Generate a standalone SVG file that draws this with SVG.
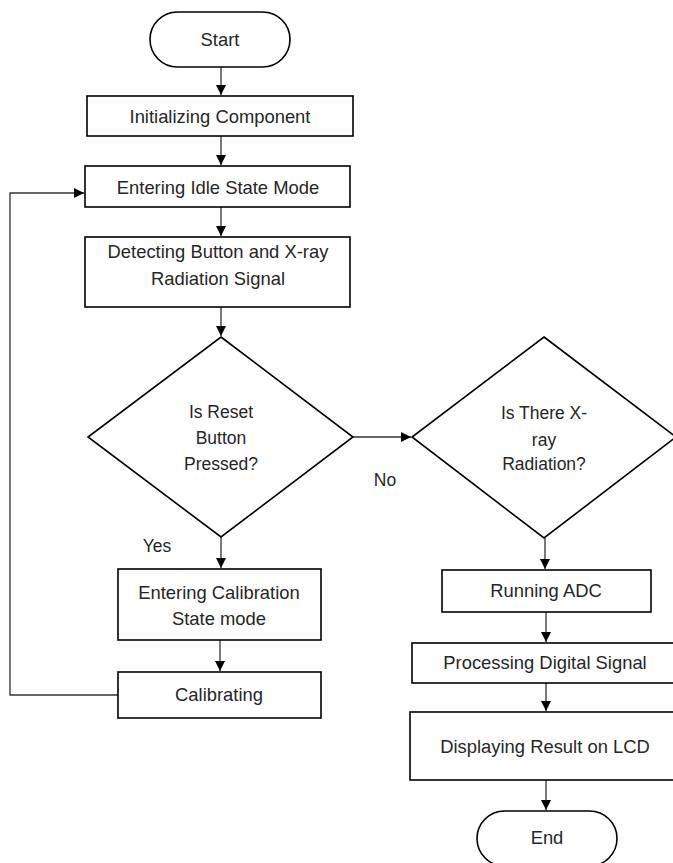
<svg xmlns="http://www.w3.org/2000/svg" width="673" height="863" viewBox="0 0 673 863">
<defs>
<marker id="arr" markerWidth="10" markerHeight="10" refX="10" refY="5" orient="auto" markerUnits="userSpaceOnUse">
<path d="M0,0 L10,5 L0,10 z" fill="#000"/>
</marker>
<style>
.shape{fill:#fff;stroke:#000;stroke-width:1.6}
.conn{fill:none;stroke:#333;stroke-width:1.3}
.t{font-family:"Liberation Sans",Arial,sans-serif;font-size:18.4px;fill:#262626;text-anchor:middle}
.d{font-family:"Liberation Sans",Arial,sans-serif;font-size:17.5px;fill:#262626;text-anchor:middle}
</style>
</defs>
<rect width="673" height="863" fill="#fff"/>
<g id="connectors">
<path class="conn" d="M221,67 V95" marker-end="url(#arr)"/>
<path class="conn" d="M221,136 V165" marker-end="url(#arr)"/>
<path class="conn" d="M221,207 V236" marker-end="url(#arr)"/>
<path class="conn" d="M221,307 V336" marker-end="url(#arr)"/>
<path class="conn" d="M353,437 H411" marker-end="url(#arr)"/>
<path class="conn" d="M221,537 V568" marker-end="url(#arr)"/>
<path class="conn" d="M545,538 V569" marker-end="url(#arr)"/>
<path class="conn" d="M220,640 V671" marker-end="url(#arr)"/>
<path class="conn" d="M118,695 H10 V193 H84" marker-end="url(#arr)"/>
<path class="conn" d="M546,612 V642" marker-end="url(#arr)"/>
<path class="conn" d="M546,683 V711" marker-end="url(#arr)"/>
<path class="conn" d="M546,780 V810" marker-end="url(#arr)"/>
</g>
<g id="start">
<rect class="shape" x="150" y="12" width="140" height="55" rx="27.5"/>
<text class="t" x="220" y="46">Start</text>
</g>
<g id="init">
<rect class="shape" x="87" y="96" width="266" height="40"/>
<text class="t" x="220" y="123">Initializing Component</text>
</g>
<g id="idle">
<rect class="shape" x="85" y="166" width="265" height="41"/>
<text class="t" x="218" y="194">Entering Idle State Mode</text>
</g>
<g id="detect">
<rect class="shape" x="85" y="237" width="265" height="70"/>
<text class="t" x="218" y="258">Detecting Button and X-ray</text>
<text class="t" x="218" y="285">Radiation Signal</text>
</g>
<g id="reset">
<polygon class="shape" points="221,337 353,437 221,537 88,437"/>
<text class="d" x="221" y="418">Is Reset</text>
<text class="d" x="221" y="444">Button</text>
<text class="d" x="221" y="470">Pressed?</text>
</g>
<g id="xray">
<polygon class="shape" points="544,337 676,437 544,538 412,437"/>
<text class="d" x="544" y="419">Is There X-</text>
<text class="d" x="544" y="446">ray</text>
<text class="d" x="544" y="470">Radiation?</text>
</g>
<text class="d" x="385" y="486">No</text>
<text class="d" x="157" y="552">Yes</text>
<g id="calentry">
<rect class="shape" x="118" y="569" width="203" height="71"/>
<text class="t" x="219" y="599">Entering Calibration</text>
<text class="t" x="219" y="625">State mode</text>
</g>
<g id="calibrating">
<rect class="shape" x="118" y="672" width="203" height="46"/>
<text class="t" x="219" y="701">Calibrating</text>
</g>
<g id="adc">
<rect class="shape" x="442" y="570" width="209" height="42"/>
<text class="t" x="546" y="597">Running ADC</text>
</g>
<g id="processing">
<rect class="shape" x="412" y="643" width="270" height="40"/>
<text class="t" x="545" y="669">Processing Digital Signal</text>
</g>
<g id="display">
<rect class="shape" x="410" y="712" width="274" height="68"/>
<text class="t" x="545" y="753">Displaying Result on LCD</text>
</g>
<g id="end">
<rect class="shape" x="477" y="811" width="140" height="55" rx="27.5"/>
<text class="t" x="547" y="844">End</text>
</g>
</svg>
